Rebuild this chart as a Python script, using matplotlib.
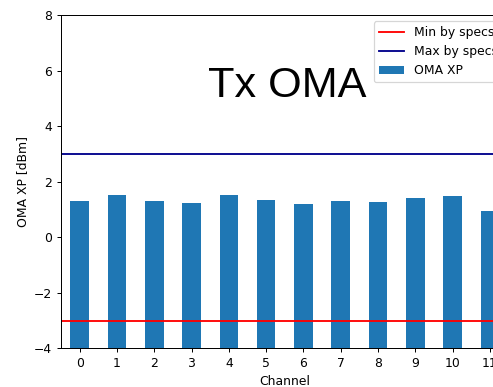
import matplotlib.pyplot as plt

# OMA per channel measured on the transmitter side
channels = list(range(12))
oma_xp = [1.29, 1.53, 1.31, 1.23, 1.53, 1.36, 1.20, 1.30, 1.28, 1.43, 1.48, 0.93]
min_spec = -3
max_spec = 3
y_floor = -4

fig = plt.figure(figsize=(493 / 89, 387 / 89), dpi=89)
ax = fig.add_axes([0.1237, 0.0995, 0.908, 0.8618])

ax.axhline(min_spec, color='red', label='Min by specs')
ax.axhline(max_spec, color='darkblue', label='Max by specs')
ax.bar(channels, [v - y_floor for v in oma_xp], width=0.5, bottom=y_floor,
       color='tab:blue', label='OMA XP')

ax.set_xlim(-0.5, 11.5)
ax.set_ylim(-4, 8)
ax.set_xticks(channels)
ax.set_xlabel('Channel')
ax.set_ylabel('OMA XP [dBm]')
ax.text(5.57, 5.05, 'Tx OMA', fontsize=35, family='Liberation Sans',
        ha='center', va='baseline')
ax.legend(loc='upper right')

fig.savefig('out.png', dpi=89)
